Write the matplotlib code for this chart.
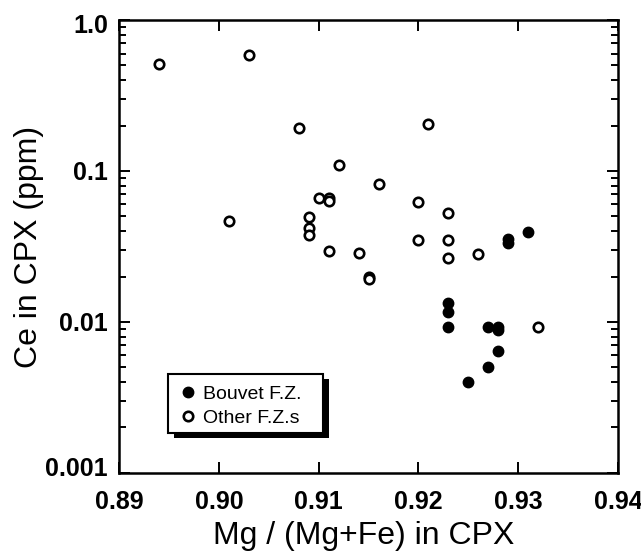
import matplotlib
matplotlib.use('Agg')
import matplotlib.pyplot as plt
import matplotlib.transforms as mtransforms
from matplotlib.patches import Rectangle
from matplotlib.ticker import LogLocator, NullFormatter

plt.rcParams['font.family'] = ['Liberation Sans', 'DejaVu Sans']

# Bouvet fracture zone (filled)
bouvet_mg = [0.931, 0.929, 0.929, 0.923, 0.923, 0.923, 0.927, 0.928, 0.928, 0.928, 0.927, 0.925]
bouvet_ce = [0.0396, 0.0353, 0.0332, 0.0134, 0.0116, 0.0093, 0.0093, 0.0092, 0.0088, 0.0064, 0.0050, 0.0040]

# other fracture zones (open)
other_mg = [0.894, 0.903, 0.908, 0.921, 0.912, 0.910, 0.911, 0.911, 0.901, 0.909, 0.909,
            0.909, 0.911, 0.916, 0.920, 0.923, 0.920, 0.923, 0.923, 0.926, 0.914, 0.915,
            0.915, 0.932]
other_ce = [0.51, 0.59, 0.194, 0.205, 0.110, 0.0663, 0.066, 0.063, 0.0467, 0.0496, 0.0417,
            0.0375, 0.0297, 0.0824, 0.0621, 0.0525, 0.0351, 0.0351, 0.0264, 0.0281, 0.0288, 0.0200,
            0.0193, 0.0093]

xticks = [0.89, 0.90, 0.91, 0.92, 0.93, 0.94]
xtick_labels = ['0.89', '0.90', '0.91', '0.92', '0.93', '0.94']
yticks = [0.001, 0.01, 0.1, 1.0]
ytick_labels = ['0.001', '0.01', '0.1', '1.0']

fig = plt.figure(figsize=(6.41, 5.57), dpi=100)
ax = fig.add_axes([0.186, 0.151, 0.778, 0.813])

ax.plot(bouvet_mg, bouvet_ce, 'o', color='black', markersize=7.5, label='Bouvet F.Z.')
ax.plot(other_mg, other_ce, 'o', markerfacecolor='white', markeredgecolor='black',
        markeredgewidth=1.9, markersize=6.8, label='Other F.Z.s')

ax.set_yscale('log')
ax.set_xlim(0.89, 0.94)
ax.set_ylim(0.001, 1.0)

ax.set_xticks(xticks, xtick_labels)
ax.set_yticks(yticks, ytick_labels)
ax.yaxis.set_minor_locator(LogLocator(base=10, subs=range(2, 10)))
ax.yaxis.set_minor_formatter(NullFormatter())

ax.tick_params(which='both', direction='in', top=True, right=True, labelsize=18, width=1.4)
ax.tick_params(which='major', length=8)
ax.tick_params(which='minor', length=5)
ax.tick_params(axis='x', pad=12)
ax.tick_params(axis='y', pad=8)
for t in ax.get_xticklabels() + ax.get_yticklabels():
    t.set_fontweight('bold')
for spine in ax.spines.values():
    spine.set_linewidth(1.8)

# lift the bottom y label clear of the x labels, drop the top one a touch
lbl = ax.get_yticklabels()[0]
lbl.set_transform(lbl.get_transform() + mtransforms.ScaledTranslation(0, 6 / 100, fig.dpi_scale_trans))
lbl = ax.get_yticklabels()[-1]
lbl.set_transform(lbl.get_transform() + mtransforms.ScaledTranslation(0, -3 / 100, fig.dpi_scale_trans))

ax.set_xlabel('Mg / (Mg+Fe) in CPX', fontsize=23)
ax.set_ylabel('Ce in CPX (ppm)', fontsize=23)
ax.xaxis.set_label_coords(0.49, -0.107)
ax.yaxis.set_label_coords(-0.15, 0.5)

# legend box drawn by hand so the frame and heavy shadow match
box_x, box_y, box_w, box_h = 0.098, 0.088, 0.311, 0.1305
ax.add_patch(Rectangle((box_x + 0.011, box_y - 0.012), box_w, box_h, transform=ax.transAxes,
                       facecolor='black', edgecolor='none', zorder=5.4, clip_on=False))
ax.add_patch(Rectangle((box_x, box_y), box_w, box_h, transform=ax.transAxes,
                       facecolor='white', edgecolor='black', linewidth=1.5, zorder=5.5, clip_on=False))

leg = ax.legend(loc='upper left', bbox_to_anchor=(box_x, box_y + box_h), fontsize=14,
                frameon=False, handletextpad=0.4, borderpad=0.6, labelspacing=0.3,
                handlelength=0.8, borderaxespad=0)
leg.set_zorder(6)

fig.savefig('out.png', dpi=100)
